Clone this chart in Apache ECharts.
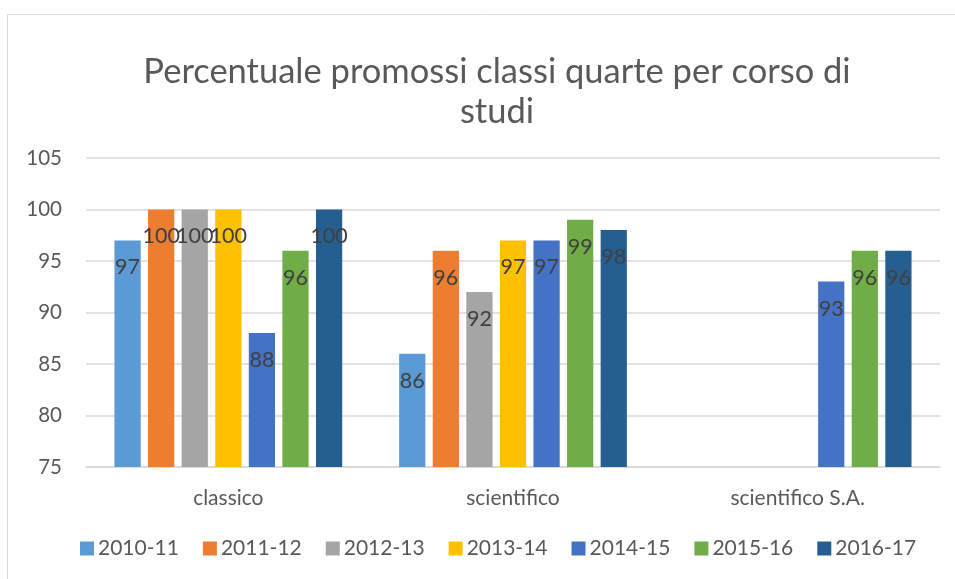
<!DOCTYPE html>
<html>
<head>
<meta charset="utf-8">
<script src="https://cdn.jsdelivr.net/npm/echarts@6/dist/echarts.min.js"></script>
<style>html,body{margin:0;padding:0;background:#fff}#c{width:955px;height:579px}</style>
</head>
<body>
<div id="c"></div>
<script>
const categories = ['classico', 'scientifico', 'scientifico S.A.'];
const seriesNames = ['2010-11', '2011-12', '2012-13', '2013-14', '2014-15', '2015-16', '2016-17'];
const v2010_11 = [97, 86, null];
const v2011_12 = [100, 96, null];
const v2012_13 = [100, 92, null];
const v2013_14 = [100, 97, null];
const v2014_15 = [88, 97, 93];
const v2015_16 = [96, 99, 96];
const v2016_17 = [100, 98, 96];
const seriesValues = [v2010_11, v2011_12, v2012_13, v2013_14, v2014_15, v2015_16, v2016_17];
const colors = ['#5B9BD5', '#ED7D31', '#A5A5A5', '#FFC000', '#4472C4', '#70AD47', '#255E91'];
const FONT = 'Lato';

const chart = echarts.init(document.getElementById('c'));
chart.setOption({
  animation: false,
  color: colors,
  textStyle: { fontFamily: FONT },
  title: {
    text: 'Percentuale promossi classi quarte per corso di\nstudi',
    left: 492,
    textAlign: 'center',
    top: 47,
    textStyle: { fontFamily: FONT, fontSize: 34.5, fontWeight: 'normal', color: '#595959', lineHeight: 40 }
  },
  graphic: [{
    type: 'rect',
    shape: { x: 7.5, y: 14.5, width: 1000, height: 700 },
    style: { fill: 'none', stroke: '#d9d9d9', lineWidth: 1 },
    silent: true
  }],
  legend: {
    bottom: 15,
    left: 75,
    itemWidth: 14,
    itemHeight: 14,
    itemGap: 24,
    icon: 'rect',
    textStyle: { fontFamily: FONT, fontSize: 21, color: '#595959', padding: [0, 0, 0, -1] },
    data: seriesNames
  },
  grid: { left: 86, right: 15, top: 158, bottom: 112, containLabel: false },
  xAxis: {
    type: 'category',
    data: categories,
    axisLine: { lineStyle: { color: '#d9d9d9', width: 1.5 } },
    axisTick: { show: false },
    axisLabel: { margin: 21, fontSize: 21, color: '#595959', fontFamily: FONT }
  },
  yAxis: {
    type: 'value',
    min: 75,
    max: 105,
    interval: 5,
    axisLine: { show: false },
    axisTick: { show: false },
    splitLine: { lineStyle: { color: '#d9d9d9', width: 1.5 } },
    axisLabel: { margin: 24, fontSize: 20.5, color: '#595959', fontFamily: FONT }
  },
  series: seriesNames.map((name, i) => ({
    name: name,
    type: 'bar',
    data: seriesValues[i],
    barGap: '28%',
    barCategoryGap: '20%',
    itemStyle: { color: colors[i] },
    label: {
      show: true,
      position: 'insideTop',
      distance: 16,
      fontSize: 21.5,
      color: '#404040',
      fontFamily: FONT,
      formatter: p => (p.value == null ? '' : p.value)
    }
  }))
});
</script>
</body>
</html>
